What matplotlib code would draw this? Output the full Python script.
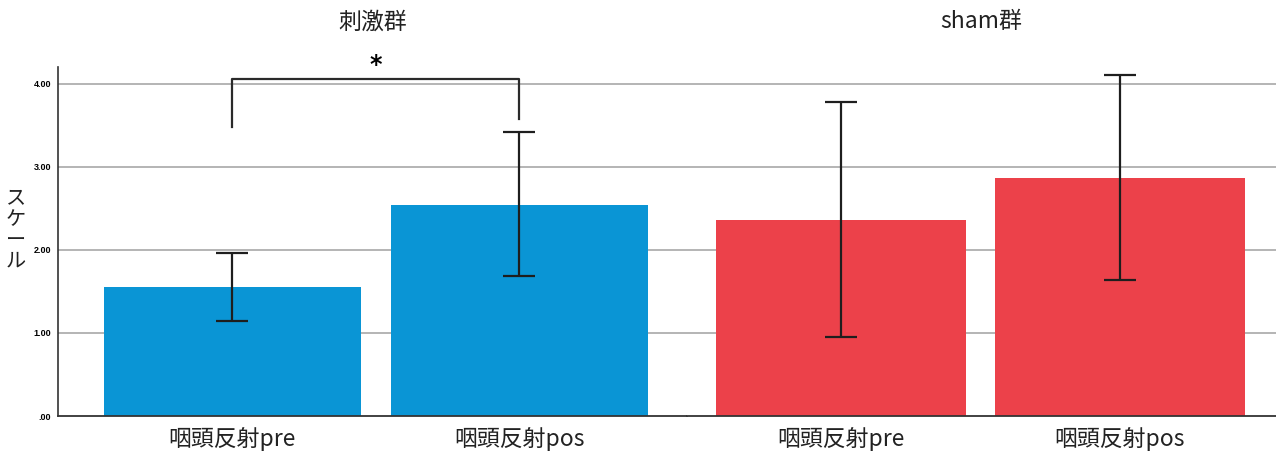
#!/usr/bin/env python3
"""Bar chart of pharyngeal reflex scale, stimulation vs sham group."""

import numpy as np
import matplotlib
matplotlib.use("Agg")
import matplotlib.pyplot as plt

plt.rcParams["font.family"] = ["Noto Sans CJK JP", "DejaVu Sans"]

# data
groups = ["刺激群", "sham群"]
categories = ["咽頭反射pre", "咽頭反射pos"]
stim_mean = [1.55, 2.54]
stim_low = [1.14, 1.69]
stim_high = [1.96, 3.42]
sham_mean = [2.36, 2.87]
sham_low = [0.95, 1.64]
sham_high = [3.78, 4.10]
ytick_vals = [0, 1, 2, 3, 4]
ytick_labels = [".00", "1.00", "2.00", "3.00", "4.00"]
sig_label = "*"
sig_leg_ends = [3.48, 3.58]
sig_top = 4.05

colors = ["#0a95d5", "#ec414a"]

W, H = 1276, 465
fig = plt.figure(figsize=(W / 100, H / 100), dpi=100)

bottom = (H - 416) / H
top_px = 67
height = (416 - top_px) / H
ax1 = fig.add_axes([58 / W, bottom, (687 - 58) / W, height])
ax2 = fig.add_axes([687 / W, bottom, (1276 - 687) / W, height], sharey=ax1)

x = np.arange(len(categories))
panels = [
    (ax1, stim_mean, stim_low, stim_high, colors[0], 0.895, (-0.608, 1.584)),
    (ax2, sham_mean, sham_low, sham_high, colors[1], 0.896, (-0.552, 1.559)),
]

for ax, mean, low, high, col, width, xl in panels:
    mean = np.array(mean)
    err = np.vstack([mean - np.array(low), np.array(high) - mean])
    for yv in ytick_vals[1:]:
        ax.axhline(yv, color="#a8a8a8", lw=1.2, zorder=0)
    ax.bar(x, mean, width=width, color=col, zorder=2)
    ax.errorbar(x, mean, yerr=err, fmt="none", ecolor="#1e1e1e",
                elinewidth=1.6, capsize=11.5, capthick=1.6, zorder=3)
    ax.set_xlim(*xl)
    ax.set_ylim(0, 4.2)
    ax.set_xticks(x)
    ax.set_xticklabels(categories, fontsize=16.5, color="#222222")
    ax.tick_params(axis="x", length=0, pad=8)
    for s in ["top", "right", "left"]:
        ax.spines[s].set_visible(False)
    ax.spines["bottom"].set_color("#333333")
    ax.spines["bottom"].set_linewidth(1.3)

ax1.spines["left"].set_visible(True)
ax1.spines["left"].set_color("#333333")
ax1.spines["left"].set_linewidth(1.2)
ax1.set_yticks(ytick_vals)
ax1.set_yticklabels(ytick_labels, fontsize=6.5, fontweight="bold",
                    family=["Liberation Sans", "DejaVu Sans"])
ax1.tick_params(axis="y", length=0, pad=5)
ax2.tick_params(axis="y", left=False, labelleft=False)

# significance bracket
ax1.plot([x[0], x[0], x[1], x[1]],
         [sig_leg_ends[0], sig_top, sig_top, sig_leg_ends[1]],
         color="#2a2a2a", lw=1.6, clip_on=False, zorder=4)
ax1.text(x.mean(), sig_top + 0.03, sig_label, ha="center", va="bottom",
         fontsize=17, fontweight="bold", family=["DejaVu Sans"], clip_on=False)

# panel titles
for ax, g in zip([ax1, ax2], groups):
    pos = ax.get_position()
    fig.text((pos.x0 + pos.x1) / 2, 1 - 22 / H, g, ha="center", va="center",
             fontsize=16.5, color="#222222")

# stacked y label
fig.text(16 / W, 1 - 230 / H, "\n".join("スケール"), ha="center", va="center",
         fontsize=14.5, linespacing=1.0, color="#222222")

fig.savefig("out.png", dpi=100)
